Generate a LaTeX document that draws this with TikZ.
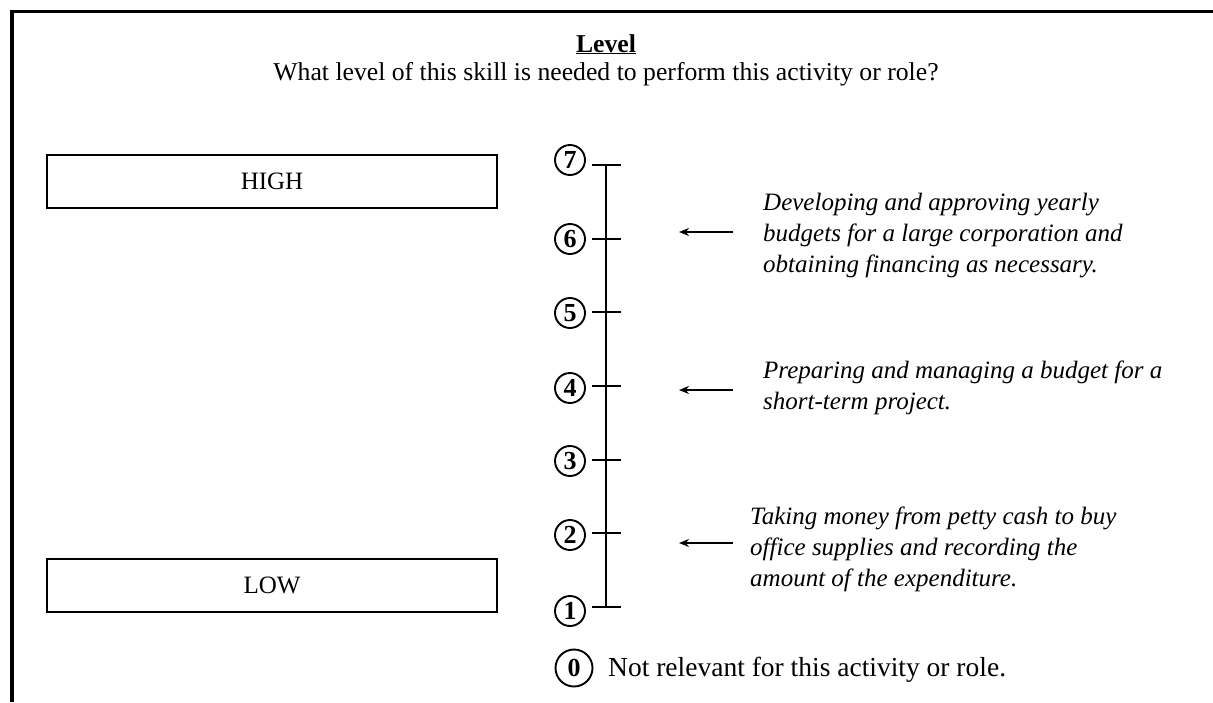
\documentclass[tikz,border=0pt]{standalone}
\usepackage{fontspec}
\setmainfont{Liberation Serif}
\usetikzlibrary{arrows.meta}
\begin{document}
\begin{tikzpicture}[x=1pt,y=-1pt,
  frame/.style={line width=3.5pt, line join=miter},
  lvlbox/.style={draw, line width=1.8pt, minimum width=450pt, minimum height=53pt, inner sep=0pt, font=\fontsize{25}{30}\selectfont},
  numc/.style={draw, circle, line width=1.9pt, minimum size=30pt, inner sep=0pt, font=\fontsize{26}{30}\selectfont\bfseries},
  zeroc/.style={draw, circle, line width=1.9pt, minimum size=37pt, inner sep=0pt, font=\fontsize{26}{30}\selectfont\bfseries},
  tickln/.style={line width=2pt},
  axisln/.style={line width=2.8pt},
  ptr/.style={line width=1.8pt, -{Stealth[length=10pt, width=8pt]}},
  itx/.style={inner sep=0pt, anchor=base west, font=\fontsize{25}{30}\selectfont\itshape},
  rmx/.style={inner sep=0pt, anchor=base, font=\fontsize{25.7}{30}\selectfont},
]
\useasboundingbox (0,0) rectangle (1213,702);
\fill[white] (0,0) rectangle (1213,702);
% frame
\coordinate (fr1) at (1213,11.5);
\coordinate (fr2) at (12,11.5);
\coordinate (fr3) at (12,702);
\draw[frame] (fr1) -- (fr2) -- (fr3);
% heading
\node[rmx, font=\fontsize{25.7}{30}\selectfont\bfseries] (title) at (606,52) {\underline{Level}};
\node[rmx] (question) at (606,80) {What level of this skill is needed to perform this activity or role?};
% boxes
\node[lvlbox] (high) at (272,181.5) {HIGH};
\node[lvlbox] (low) at (272,585.5) {LOW};
% scale
\coordinate (ax7) at (606,165);
\coordinate (ax1) at (606,607);
\draw[axisln] (ax7) -- (ax1);
\foreach \i/\yy/\cy in {1/607/611, 2/533.3/535, 3/459.7/461, 4/386/388, 5/312.3/313, 6/238.7/239, 7/165/160} {
  \node[numc] (c\i) at (570,\cy) {\i};
  \coordinate (tl\i) at (592,\yy);
  \coordinate (tr\i) at (621,\yy);
  \draw[tickln] (tl\i) -- (tr\i);
}
\node[zeroc] (c0) at (574,668) {0};
\node[inner sep=0pt, anchor=base west, font=\fontsize{27.5}{30}\selectfont] (notrel) at (608,676) {Not relevant for this activity or role.};
% arrows
\coordinate (p6s) at (733,232);
\coordinate (p6e) at (679,232);
\coordinate (p4s) at (733,390);
\coordinate (p4e) at (679,390);
\coordinate (p2s) at (733,543);
\coordinate (p2e) at (679,543);
\draw[ptr] (p6s) -- (p6e);
\draw[ptr] (p4s) -- (p4e);
\draw[ptr] (p2s) -- (p2e);
% descriptions
\node[itx] (d6a) at (763,210) {Developing and approving yearly};
\node[itx] (d6b) at (763,241) {budgets for a large corporation and};
\node[itx] (d6c) at (763,272) {obtaining financing as necessary.};
\node[itx] (d4a) at (763,378) {Preparing and managing a budget for a};
\node[itx] (d4b) at (763,409) {short-term project.};
\node[itx] (d2a) at (750,524) {Taking money from petty cash to buy};
\node[itx] (d2b) at (750,555) {office supplies and recording the};
\node[itx] (d2c) at (750,586) {amount of the expenditure.};
\end{tikzpicture}
\end{document}
